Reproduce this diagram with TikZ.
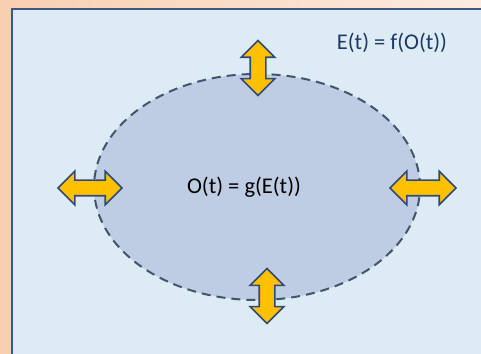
\documentclass[tikz,border=0pt]{standalone}
\usepackage{fontspec}
\setmainfont{Carlito}
\usepackage{xcolor}
\definecolor{FrameBlue} {RGB}{ 60,  88, 138}
\definecolor{PaleBlue}  {RGB}{221, 235, 245}
\definecolor{CellBlue}  {RGB}{190, 205, 228}
\definecolor{DashGrey}  {RGB}{ 68,  84, 106}
\definecolor{FluxGold}  {RGB}{255, 192,   0}
\definecolor{FluxEdge}  {RGB}{ 46,  74, 125}
\definecolor{Peach}     {RGB}{248, 207, 176}
\definecolor{NavyText}  {RGB}{ 31,  56, 100}
\usetikzlibrary{arrows.meta, positioning, shapes.arrows}

\begin{document}
\begin{tikzpicture}[x=1pt, y=1pt,
  flux/.style={shape=double arrow, draw=FluxEdge, fill=FluxGold,
               line width=1.6pt, inner xsep=0pt, inner ysep=7pt,
               double arrow head extend=9pt, double arrow tip angle=90},
  eq/.style={font=\fontsize{22.5}{26}\selectfont, inner sep=0pt},
  cell/.style={draw=DashGrey, fill=CellBlue, line width=2pt,
               dash pattern=on 9pt off 6pt}
]
  \useasboundingbox (0,0) rectangle (481,353);
  \shade[left color=Peach, right color=Peach!40] (0,0) rectangle (481,353);
  \draw[FrameBlue, fill=PaleBlue, line width=2.5pt] (12,-5) rectangle (490,344);

  \draw[cell] (257,166) ellipse [x radius=163, y radius=113];

  \node[eq] (inner) at (244,166) {O(t) = g(E(t))};
  \node[eq, text=NavyText] (outer) at (392,310) {E(t) = f(O(t))};

  \node[flux, minimum height=55pt, rotate=90] (fluxN) at (258,285) {};
  \node[flux, minimum height=55pt, rotate=90] (fluxS) at (267,57) {};
  \node[flux, minimum height=64pt] (fluxW) at (90,165) {};
  \node[flux, minimum height=66pt] (fluxE) at (423,165) {};
\end{tikzpicture}
\end{document}
